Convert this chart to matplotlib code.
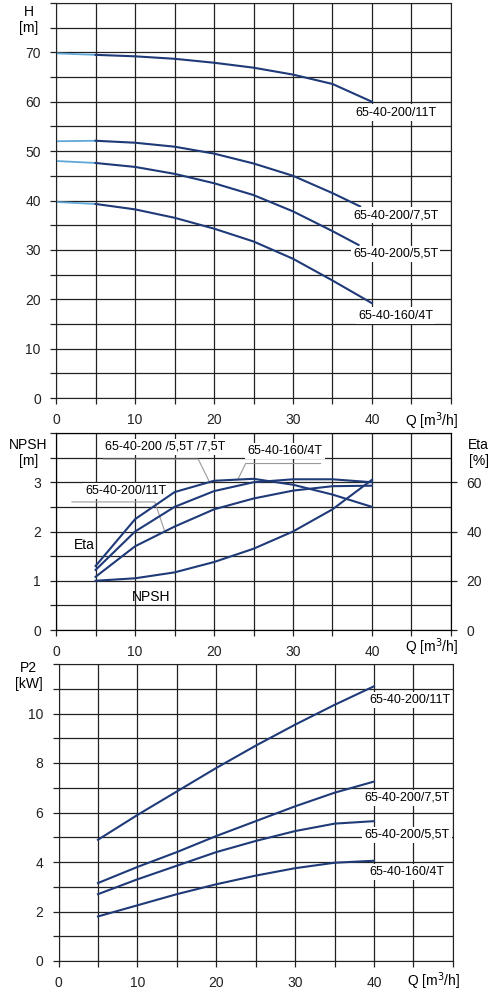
import matplotlib.pyplot as plt
import numpy as np

plt.rcParams['font.family'] = ['Liberation Sans', 'DejaVu Sans']

LINE = '#1f3a78'
LIGHT = '#5fa8d8'

# H curves: Q vs H
h_q = [0, 5, 10, 15, 20, 25, 30, 35, 40]
h_11 = [69.8, 69.5, 69.2, 68.7, 67.9, 66.9, 65.5, 63.6, 60.0]
h_75_q = [0, 5, 10, 15, 20, 25, 30, 35, 38.5]
h_75 = [52.0, 52.1, 51.7, 50.9, 49.5, 47.5, 45.0, 41.5, 38.8]
h_55_q = [0, 5, 10, 15, 20, 25, 30, 35, 38.3]
h_55 = [48.0, 47.6, 46.8, 45.4, 43.5, 41.1, 37.8, 33.8, 31.0]
h_4 = [39.7, 39.3, 38.2, 36.5, 34.3, 31.7, 28.2, 23.8, 19.2]

# NPSH [m] and Eta [%]
m_q = [5, 10, 15, 20, 25, 30, 35, 40]
npsh = [1.0, 1.05, 1.17, 1.38, 1.65, 2.0, 2.45, 3.05]
eta_4 = [26, 45, 56, 60.6, 61.4, 59, 55, 50]
eta_55_75 = [24.4, 40, 50, 56.4, 60, 61.2, 61.2, 60]
eta_11 = [21.6, 34, 42, 49, 53.4, 56.6, 58.4, 58.6]

# P2 [kW]
p_11 = [4.9, 5.9, 6.85, 7.8, 8.7, 9.55, 10.35, 11.1]
p_75 = [3.15, 3.8, 4.4, 5.05, 5.65, 6.25, 6.8, 7.25]
p_55 = [2.7, 3.3, 3.85, 4.4, 4.85, 5.25, 5.55, 5.65]
p_4 = [1.8, 2.25, 2.7, 3.1, 3.45, 3.75, 3.97, 4.05]

names = ['65-40-200/11T', '65-40-200/7,5T', '65-40-200/5,5T', '65-40-160/4T']

fig = plt.figure(figsize=(4.88, 10), dpi=100)
ax1 = fig.add_axes([0.115, 0.602, 0.809, 0.395])
ax2 = fig.add_axes([0.115, 0.370, 0.809, 0.197])
ax3 = fig.add_axes([0.12, 0.039, 0.808, 0.297])


def setup(ax, ymax, ystep, ticks):
    ax.set_xlim(0, 50)
    ax.set_ylim(0, ymax)
    ax.set_xticks(np.arange(0, 51, 5), minor=True)
    ax.set_xticks([0, 10, 20, 30, 40])
    ax.set_yticks(np.arange(0, ymax + 0.001, ystep), minor=True)
    ax.set_yticks(ticks)
    ax.grid(True, which='both', color='#222222', lw=0.9)
    ax.tick_params(which='both', length=4, width=0.9, labelsize=10, colors='#222222', pad=7)
    for s in ax.spines.values():
        s.set_color('#222222')
    ax.text(47.5, -ymax * 0.032, 'Q [m$^3$/h]', ha='center', va='top', fontsize=10,
            transform=ax.transData, clip_on=False)


def label(ax, x, y, s):
    ax.text(x, y, s, ha='center', va='center', fontsize=9,
            bbox=dict(facecolor='white', edgecolor='none', pad=1.5))


# top: H
setup(ax1, 80, 5, range(0, 71, 10))
for q, h in [(h_q, h_11), (h_75_q, h_75), (h_55_q, h_55), (h_q, h_4)]:
    ax1.plot(q[:2], h[:2], color=LIGHT, lw=1.3)
    ax1.plot(q[1:], h[1:], color=LINE, lw=1.5)
ax1.text(-3.5, 76.5, 'H\n[m]', ha='center', va='center', fontsize=10, clip_on=False)
label(ax1, 43, 57.8, names[0])
label(ax1, 43, 37.0, names[1])
label(ax1, 43, 29.2, names[2])
label(ax1, 43, 16.7, names[3])

# middle: NPSH / Eta
setup(ax2, 4, 0.5, [0, 1, 2, 3])
ax2b = ax2.twinx()
ax2b.set_ylim(0, 80)
ax2b.set_yticks([0, 20, 40, 60])
ax2b.tick_params(length=4, width=0.9, labelsize=10, colors='#222222', pad=7)
ax2.plot(m_q, npsh, color=LINE, lw=1.5)
for e in [eta_4, eta_55_75, eta_11]:
    ax2b.plot(m_q, e, color=LINE, lw=1.5)
ax2.text(-3.5, 3.6, 'NPSH\n[m]', ha='center', va='center', fontsize=10, clip_on=False)
ax2.text(53.5, 3.6, 'Eta\n[%]', ha='center', va='center', fontsize=10, clip_on=False)
ax2.text(12, 0.67, 'NPSH', ha='center', va='center', fontsize=10)
ax2.text(3.6, 1.73, 'Eta', ha='center', va='center', fontsize=10)
ax2.plot([6, 18, 19.5], [3.47, 3.47, 2.98], color='#999999', lw=0.8)
ax2.plot([23, 24, 33.5], [3.05, 3.38, 3.38], color='#999999', lw=0.8)
ax2.plot([2, 12.5, 13.7], [2.6, 2.6, 2.03], color='#999999', lw=0.8)
label(ax2, 13.8, 3.72, '65-40-200 /5,5T /7,5T')
label(ax2, 29, 3.63, names[3])
label(ax2, 8.8, 2.82, names[0])

# bottom: P2
setup(ax3, 12, 1, range(0, 11, 2))
for p in [p_11, p_75, p_55, p_4]:
    ax3.plot(m_q, p, color=LINE, lw=1.5)
ax3.text(-3.8, 11.5, 'P2\n[kW]', ha='center', va='center', fontsize=10, clip_on=False)
label(ax3, 44.5, 10.55, names[0])
label(ax3, 44.2, 6.6, names[1])
label(ax3, 44.2, 5.1, names[2])
label(ax3, 44.2, 3.6, names[3])

fig.savefig('out.png', dpi=100, facecolor='white')
